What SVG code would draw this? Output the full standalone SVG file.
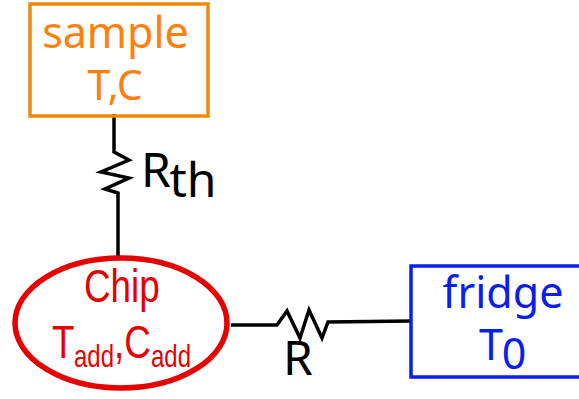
<svg xmlns="http://www.w3.org/2000/svg" width="579" height="399" viewBox="0 0 579 399">
<style>
text{font-family:"Noto Sans","Open Sans",sans-serif;text-anchor:middle}
.o{fill:#ff7f0e}
.b{fill:#0a1eee}
.k{fill:#000;font-size:48px}
.r{fill:#e60000;font-family:"Liberation Sans",Arial,sans-serif;text-anchor:start}
.w{fill:none;stroke:#000;stroke-width:3.5;stroke-linejoin:miter}
</style>
<rect width="579" height="399" fill="#fff"/>
<g id="connectors">
<path class="w" d="M114 114V152L129 160L101 172L129 178L105 189L118 193V259"/>
<path class="w" d="M231 325H277L287 311L300 338L309 310L322 338L328 322L411 321"/>
</g>
<g id="sample">
<rect x="30" y="4" width="178" height="112" fill="none" stroke="#ee8a0a" stroke-width="3.5"/>
<text class="o" font-size="43" x="115.500" y="48">sample</text>
<text class="o" font-size="41" x="115" y="100">T,C</text>
</g>
<g id="chip">
<ellipse cx="121" cy="323" rx="106" ry="65" fill="none" stroke="#e60000" stroke-width="5.500"/>
<text class="r" font-size="46" transform="translate(84 302) scale(.8 1)">Chip</text>
<text class="r" font-size="46" transform="translate(52 358) scale(.8 1)">T</text>
<text class="r" font-size="32" transform="translate(74 367) scale(.75 1)">add</text>
<text class="r" font-size="46" transform="translate(114 358) scale(.8 1)">,C</text>
<text class="r" font-size="32" transform="translate(151 367) scale(.75 1)">add</text>
</g>
<g id="fridge">
<path d="M579 266H411V377H579" fill="none" stroke="#0a1eee" stroke-width="3.500"/>
<text class="b" font-size="43" x="503" y="308">fridge</text>
<text class="b" font-size="43" x="491" y="360">T</text>
<text class="b" font-size="43" x="514" y="369">0</text>
</g>
<g id="labels">
<text class="k" x="156" y="187">R</text>
<text class="k" x="193" y="197">th</text>
<text class="k" x="298" y="375">R</text>
</g>
</svg>
